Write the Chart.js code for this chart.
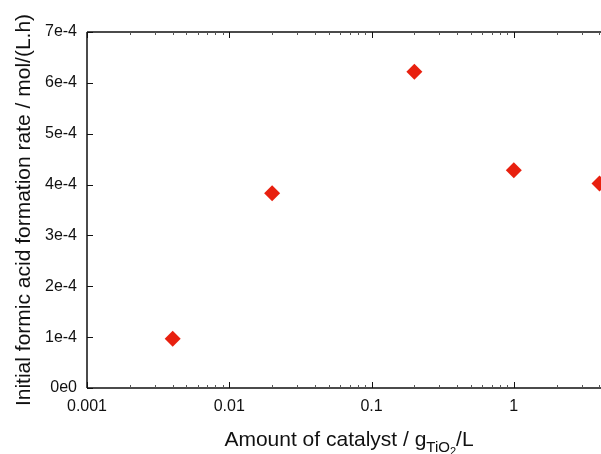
<!DOCTYPE html>
<html>
<head>
<meta charset="utf-8">
<script src="https://cdn.jsdelivr.net/npm/chart.js@4"></script>
<style>
  html, body { margin: 0; padding: 0; background: #fff; }
  #wrap { width: 601px; height: 454px; }
</style>
</head>
<body>
<div id="wrap"><canvas id="rateChart" width="601" height="454"></canvas></div>
<script>
// catalyst loading (g TiO2 / L) and initial formic acid formation rate (mol/(L.h))
var catalyst = [0.004, 0.02, 0.2, 1, 4];
var rate = [0.97e-4, 3.83e-4, 6.22e-4, 4.28e-4, 4.02e-4];
var xTickValues = [0.001, 0.01, 0.1, 1];
var yTickLabels = ["0e0", "1e-4", "2e-4", "3e-4", "4e-4", "5e-4", "6e-4", "7e-4"];

var tickFont = { family: "'Liberation Sans', Arial, sans-serif", size: 16 };
var titleFamily = "'Liberation Sans', Arial, sans-serif";

// frame, inward ticks and the x title with subscripts
var framePlugin = {
  id: "frame",
  afterDraw: function (chart) {
    var ctx = chart.ctx;
    var a = chart.chartArea;
    var xs = chart.scales.x, ys = chart.scales.y;
    ctx.save();
    ctx.strokeStyle = "#111";
    ctx.lineWidth = 1.5;
    ctx.beginPath();
    ctx.moveTo(a.left, a.top);
    ctx.lineTo(a.left, a.bottom);
    ctx.moveTo(a.left, a.bottom);
    ctx.lineTo(a.right, a.bottom);
    ctx.moveTo(a.left, a.top);
    ctx.lineTo(a.right, a.top);
    ctx.stroke();

    ctx.lineWidth = 1;
    for (var d = -3; d <= 1; d++) {
      for (var m = 1; m <= 9; m++) {
        var v = m * Math.pow(10, d);
        if (v > xs.max) break;
        var px = Math.round(xs.getPixelForValue(v)) + 0.5;
        var len = m === 1 ? 6 : 3;
        ctx.strokeStyle = m === 1 ? "#111" : "#555";
        ctx.beginPath();
        ctx.moveTo(px, a.bottom);
        ctx.lineTo(px, a.bottom - len);
        ctx.moveTo(px, a.top);
        ctx.lineTo(px, a.top + len);
        ctx.stroke();
      }
    }
    ctx.strokeStyle = "#111";
    ys.ticks.forEach(function (t) {
      var py = Math.round(ys.getPixelForValue(t.value)) + 0.5;
      ctx.beginPath();
      ctx.moveTo(a.left, py);
      ctx.lineTo(a.left + 6, py);
      ctx.stroke();
    });

    // x axis title: Amount of catalyst / g_{TiO_2}/L
    var parts = [
      { t: "Amount of catalyst / g", size: 21, dy: 0 },
      { t: "TiO", size: 15, dy: 6 },
      { t: "2", size: 11, dy: 9 },
      { t: "/L", size: 21, dy: 0 }
    ];
    var total = 0;
    parts.forEach(function (p) {
      ctx.font = p.size + "px " + titleFamily;
      p.w = ctx.measureText(p.t).width;
      total += p.w;
    });
    var x0 = (a.left + a.right) / 2 + 5 - total / 2;
    var base = 446;
    ctx.fillStyle = "#111";
    ctx.textBaseline = "alphabetic";
    ctx.textAlign = "left";
    parts.forEach(function (p) {
      ctx.font = p.size + "px " + titleFamily;
      ctx.fillText(p.t, x0, base + p.dy);
      x0 += p.w;
    });
    ctx.restore();
  }
};

new Chart(document.getElementById("rateChart"), {
  type: "scatter",
  data: {
    datasets: [{
      label: "rate",
      data: catalyst.map(function (c, i) { return { x: c, y: rate[i] }; }),
      pointStyle: "rectRot",
      pointRadius: 8,
      pointHoverRadius: 8,
      backgroundColor: "#e8200f",
      borderColor: "#e8200f",
      borderWidth: 0,
      clip: false
    }]
  },
  options: {
    responsive: false,
    animation: false,
    layout: { autoPadding: false, padding: { top: 32, right: 0, left: 0, bottom: 0 } },
    plugins: { legend: { display: false }, tooltip: { enabled: false } },
    scales: {
      x: {
        type: "logarithmic",
        min: 0.001,
        max: 4.1,
        grid: { display: false, drawTicks: false },
        border: { display: false },
        afterBuildTicks: function (s) {
          s.ticks = xTickValues.map(function (v) { return { value: v }; });
        },
        afterFit: function (s) {
          s.height = 66;
          s.paddingLeft = 0;
          s.paddingRight = 0;
        },
        ticks: {
          autoSkip: false,
          maxRotation: 0,
          padding: 9,
          color: "#111",
          font: tickFont,
          callback: function (v) { return String(v); }
        }
      },
      y: {
        min: 0,
        max: 7e-4,
        grid: { display: false, drawTicks: false },
        border: { display: false },
        afterFit: function (s) {
          s.width = 87;
          s.paddingTop = 0;
          s.paddingBottom = 0;
        },
        ticks: {
          stepSize: 1e-4,
          padding: 10,
          color: "#111",
          font: tickFont,
          callback: function (v, i) { return yTickLabels[i]; }
        },
        title: {
          display: true,
          text: "Initial formic acid formation rate / mol/(L.h)",
          color: "#111",
          font: { family: titleFamily, size: 21 },
          padding: { top: 12, bottom: 0 }
        }
      }
    }
  },
  plugins: [framePlugin]
});
</script>
</body>
</html>
